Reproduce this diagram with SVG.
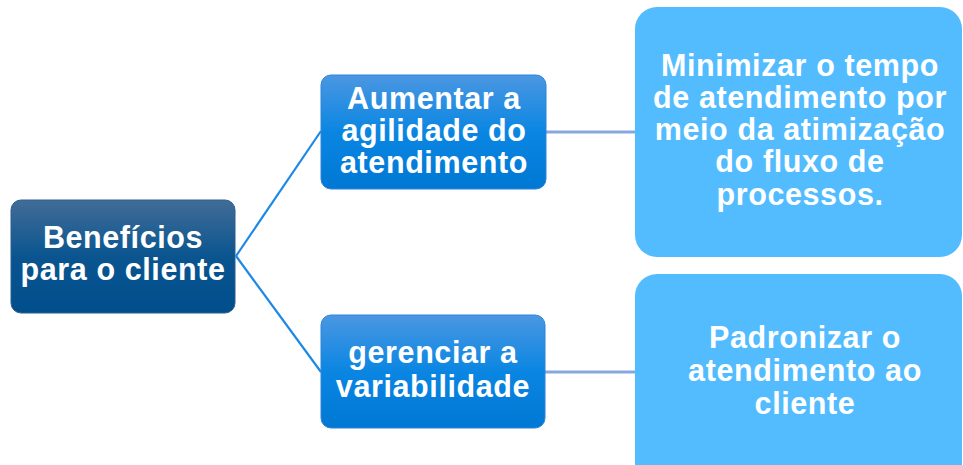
<svg xmlns="http://www.w3.org/2000/svg" width="963" height="465" viewBox="0 0 963 465">
<defs>
<linearGradient id="gRoot" x1="0" y1="0" x2="0" y2="1">
<stop offset="0" stop-color="#426c97"/>
<stop offset="0.5" stop-color="#0a5590"/>
<stop offset="1" stop-color="#004e8c"/>
</linearGradient>
<linearGradient id="gMid" x1="0" y1="0" x2="0" y2="1">
<stop offset="0" stop-color="#4b97e2"/>
<stop offset="0.5" stop-color="#0a86e2"/>
<stop offset="1" stop-color="#0078d4"/>
</linearGradient>
</defs>
<style>
text{font-family:"Liberation Sans",Arial,sans-serif;font-weight:bold;fill:#ffffff;text-anchor:middle;font-size:30.5px;letter-spacing:0.6px}
.root{fill:url(#gRoot);stroke:#2d5f8f;stroke-width:1}
.mid{fill:url(#gMid);stroke:#2a86d8;stroke-width:1}
.leaf{fill:#52bcff}
.c1{stroke:#1e88e5;stroke-width:2.2;fill:none}
.c2{stroke:#86a8df;stroke-width:3;fill:none}
</style>
<g id="connectors">
<path class="c1" d="M236 256 L321 131"/>
<path class="c1" d="M236 256 L321 372"/>
<path class="c2" d="M546 132 L636 132"/>
<path class="c2" d="M545 372 L636 372"/>
</g>
<g id="node-root">
<rect class="root" x="11" y="200" width="224" height="113" rx="10"/>
<text x="123" y="248">Benefícios</text>
<text x="123" y="280">para o cliente</text>
</g>
<g id="node-agilidade">
<rect class="mid" x="321" y="75" width="225" height="114" rx="10"/>
<text x="434" y="109">Aumentar a</text>
<text x="434" y="141">agilidade do</text>
<text x="434" y="173">atendimento</text>
</g>
<g id="node-variabilidade">
<rect class="mid" x="321" y="315" width="224" height="113" rx="10"/>
<text x="433" y="363">gerenciar a</text>
<text x="433" y="397">variabilidade</text>
</g>
<g id="node-minimizar">
<rect class="leaf" x="635" y="7" width="327" height="250" rx="22"/>
<text x="800" y="76">Minimizar o tempo</text>
<text x="800" y="108">de atendimento por</text>
<text x="800" y="140">meio da atimização</text>
<text x="800" y="172">do fluxo de</text>
<text x="800" y="205">processos.</text>
</g>
<g id="node-padronizar">
<rect class="leaf" x="635" y="274" width="327" height="220" rx="22"/>
<text x="805" y="348">Padronizar o</text>
<text x="805" y="381">atendimento ao</text>
<text x="805" y="414">cliente</text>
</g>
</svg>
